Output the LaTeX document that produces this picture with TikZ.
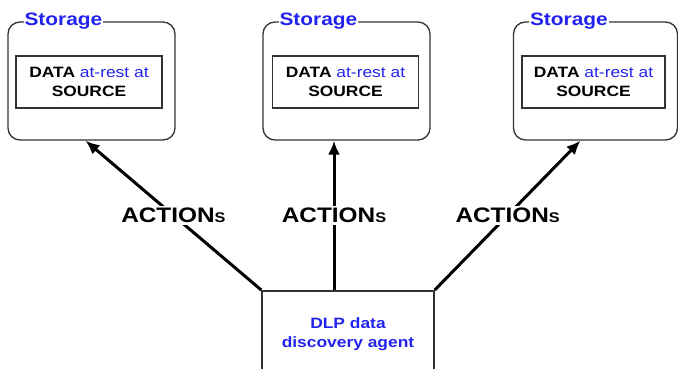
\documentclass[tikz,border=0pt]{standalone}
\usepackage{fontspec}
\setmainfont[FakeStretch=1.16]{Liberation Sans}
\definecolor{dlpblue}{HTML}{2323EE}
\usetikzlibrary{positioning,arrows.meta}
\tikzset{>={Latex[length=14pt,width=12pt]}}
\tikzset{
  storage/.style={draw=black!80, line width=1.3pt, rounded corners=12pt, minimum width=167pt, minimum height=118pt},
  store title/.style={anchor=west, fill=white, inner xsep=1pt, inner ysep=0pt, text=dlpblue, font=\bfseries\fontsize{18}{20}\selectfont},
  datbox/.style={draw=black!80, line width=1.2pt, minimum width=146pt, minimum height=52pt, align=center, font=\fontsize{15}{19}\selectfont},
  agent/.style={draw=black!80, line width=1.5pt, minimum width=172pt, minimum height=86pt, align=center, text=dlpblue, font=\bfseries\fontsize{15}{19}\selectfont},
  act/.style={->, line width=3pt},
  actlabel/.style={fill=white, inner sep=2pt, font=\bfseries\fontsize{21}{23}\selectfont}
}
\newcommand{\actword}{ACTION{\fontsize{14}{16}\selectfont S}}
\newcommand{\datword}{\textbf{DATA} \textcolor{dlpblue}{at-rest at}\\\textbf{SOURCE}}
\begin{document}
\begin{tikzpicture}[x=1pt, y=-1pt]
\useasboundingbox (0,0) rectangle (678,369);
% storage places
\node[storage] (st1) at (91.5,81) {};
\node[storage] (st2) at (346.5,81) {};
\node[storage, minimum width=164pt] (st3) at (595.5,81) {};
\foreach \s in {1,2,3}
  \node[store title] at ([xshift=16pt]st\s.north west) {Storage};
% data at the source
\node[datbox] (d1) at (89,82) {\datword};
\node[datbox] (d2) at (345.5,82) {\datword};
\node[datbox, minimum width=143pt] (d3) at (593.5,82) {\datword};
% the agent, cut off by the page
\node[agent, anchor=north] (ag) at (348,290) {DLP data\\discovery agent};
% actions
\draw[act] (ag.north west) -- ([xshift=-6pt]st1.south) node[midway, actlabel] {\actword};
\draw[act] ([xshift=-14pt]ag.north) -- ([xshift=-14pt]ag.north |- st2.south) node[midway, actlabel] {\actword};
\draw[act] (ag.north east) -- ([xshift=-15pt]st3.south) node[midway, actlabel] {\actword};
\end{tikzpicture}
\end{document}
